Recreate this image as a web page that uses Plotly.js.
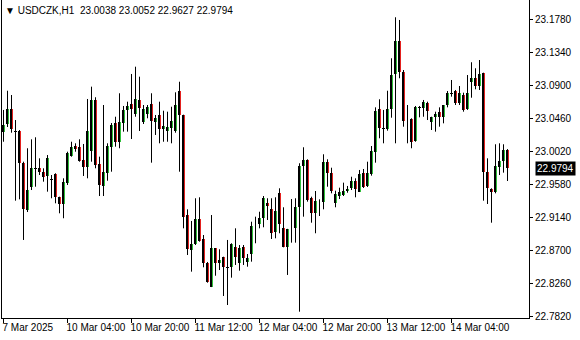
<!DOCTYPE html>
<html><head><meta charset="utf-8">
<script src="https://cdn.plot.ly/plotly-3.0.1.min.js"></script>
<style>html,body{margin:0;padding:0;background:#fff}#c{width:580px;height:340px}</style>
</head><body><div id="c"></div><script>
const symbolText = "USDCZK,H1";
const headerValues = ["23.0038", "23.0052", "22.9627", "22.9794"];
const lastPrice = 22.9794;

const opens = [23.0284,23.0382,23.0582,23.0293,23.0293,22.9871,22.9241,22.9547,22.9796,22.9796,
22.9743,22.9694,22.9650,22.9716,22.9410,22.9317,22.9597,22.9960,23.0093,23.0076,
22.9907,22.9818,23.0031,23.0706,22.9854,22.9565,22.9738,23.0076,23.0395,23.0150,
23.0403,23.0573,23.0652,23.0515,23.0706,23.0417,23.0519,23.0652,23.0417,23.0506,
23.0315,23.0297,23.0337,23.0297,23.0825,23.0506,22.9174,22.8709,22.8784,22.9121,
22.8851,22.8531,22.8220,22.8731,22.8539,22.8611,22.8478,22.8486,22.8752,22.8531,
22.8752,22.8553,22.8651,22.9055,22.9051,22.9139,22.9330,22.9250,22.8944,22.9463,
22.8997,22.8744,22.8997,22.8997,22.9277,22.9827,22.9907,22.9405,22.9205,22.9352,
22.9344,22.9884,22.9730,22.9330,22.9431,22.9441,22.9494,22.9530,22.9631,22.9485,
22.9730,22.9561,22.9720,23.0017,23.0582,23.0329,23.0315,23.0582,23.1048,23.1491,
23.1082,23.0449,23.0453,23.0164,23.0603,23.0595,23.0662,23.0417,23.0475,23.0542,
23.0483,23.0639,23.0795,23.0825,23.0670,23.0772,23.0582,23.0949,23.0995,23.0892,
23.1061,22.9743,22.9521,22.9485,22.9818,22.9893,23.0038];

const highs = [23.0573,23.0829,23.0772,23.0439,23.0306,22.9884,23.0063,23.0182,23.0209,22.9929,
22.9796,22.9973,22.9707,22.9730,22.9418,22.9663,23.0017,23.0150,23.0129,23.0182,
23.0120,23.0719,23.0883,23.0742,22.9951,23.0639,23.0129,23.0399,23.0483,23.0795,
23.0626,23.0683,23.1052,23.1149,23.1016,23.0639,23.0639,23.0795,23.0506,23.0683,
23.0563,23.0550,23.0616,23.0808,23.0949,23.0510,22.9250,22.9095,22.9397,22.9410,
22.8908,22.8549,22.9174,22.8735,22.8718,22.8619,22.8842,22.8798,22.8997,22.8775,
22.8775,22.8655,22.9085,22.9152,22.9218,22.9427,22.9397,22.9397,22.9410,22.9530,
22.9277,22.8990,22.9387,22.9397,22.9863,23.0076,22.9916,22.9418,22.9494,22.9383,
22.9983,22.9916,22.9804,22.9498,22.9538,22.9605,22.9561,22.9684,22.9663,22.9774,
22.9787,22.9884,23.0093,23.0608,23.0715,23.0573,23.0829,23.1261,23.1807,23.1771,
23.1105,23.0639,23.0462,23.0626,23.0626,23.0706,23.0683,23.0483,23.0550,23.0608,
23.0639,23.0825,23.0972,23.0839,23.0892,23.0803,23.1038,23.1208,23.1128,23.1238,
23.1069,22.9929,22.9530,23.0116,23.0129,23.0116,23.0052];

const lows = [23.0150,23.0346,23.0270,22.9365,22.9383,22.8842,22.9214,22.9507,22.9551,22.9707,
22.9618,22.9485,22.9397,22.9330,22.9197,22.9131,22.9574,22.9951,23.0017,22.9884,
22.9694,22.9663,22.9884,22.9796,22.9427,22.9427,22.9631,22.9751,23.0084,23.0063,
23.0284,23.0284,23.0186,23.0483,23.0293,23.0386,23.0462,22.9871,23.0240,23.0129,
23.0150,23.0150,23.0129,23.0270,22.9751,22.8997,22.8642,22.8420,22.8775,22.8819,
22.8478,22.8273,22.8215,22.8366,22.8442,22.8096,22.7976,22.8340,22.8509,22.8433,
22.8509,22.8486,22.8553,22.8798,22.8997,22.9011,22.9108,22.8855,22.8864,22.8931,
22.8744,22.8376,22.8806,22.8806,22.7887,22.9152,22.9352,22.9072,22.8931,22.9161,
22.9250,22.9551,22.9463,22.9277,22.9387,22.9427,22.9471,22.9507,22.9410,22.9481,
22.9534,22.9547,22.9698,22.9871,23.0196,23.0129,23.0297,23.0470,23.0129,23.0995,
23.0350,23.0129,23.0063,23.0150,23.0475,23.0483,23.0439,23.0306,23.0284,23.0350,
23.0395,23.0608,23.0750,23.0639,23.0639,23.0550,23.0573,23.0736,23.0848,23.0839,
22.9365,22.9321,22.9072,22.9463,22.9707,22.9738,22.9627];

const closes = [23.0373,23.0582,23.0315,23.0286,22.9871,22.9250,22.9507,22.9796,22.9791,22.9743,
22.9684,22.9929,22.9647,22.9410,22.9317,22.9610,22.9996,23.0084,23.0057,22.9898,
22.9818,23.0297,23.0706,22.9840,22.9574,22.9743,23.0093,23.0373,23.0150,23.0409,
23.0573,23.0626,23.0582,23.0715,23.0603,23.0586,23.0608,23.0430,23.0462,23.0315,
23.0359,23.0342,23.0426,23.0639,23.0506,22.9152,22.8718,22.8784,22.9121,22.8832,
22.8539,22.8278,22.8731,22.8531,22.8575,22.8478,22.8475,22.8788,22.8619,22.8731,
22.8606,22.8606,22.9028,22.9048,22.9131,22.9397,22.9298,22.8931,22.9228,22.9055,
22.8752,22.8984,22.8995,22.9277,22.9827,22.9907,22.9374,22.9205,22.9361,22.9350,
22.9884,22.9730,22.9498,22.9450,22.9477,22.9498,22.9517,22.9627,22.9517,22.9720,
22.9551,22.9730,23.0027,23.0559,23.0337,23.0326,23.0582,23.1038,23.1491,23.1074,
23.0430,23.0446,23.0142,23.0608,23.0606,23.0675,23.0563,23.0475,23.0519,23.0483,
23.0639,23.0803,23.0792,23.0670,23.0795,23.0573,23.0795,23.0995,23.0896,23.1052,
22.9751,22.9530,22.9485,22.9827,22.9893,23.0040,22.9794];

const timeLabels = ["7 Mar 2025","10 Mar 04:00","10 Mar 20:00","11 Mar 12:00","12 Mar 04:00","12 Mar 20:00","13 Mar 12:00","14 Mar 04:00"];
const timeLabelBars = [0,16,32,48,64,80,96,112];
const priceTicks = [22.782,22.826,22.870,22.914,22.958,23.002,23.046,23.090,23.134,23.178];

const bullColor = "#2fbf3a";
const bearColor = "#e3201e";
const dojiLimit = 0.0008;

const bars = opens.map((_, i) => i);
const font = {family: "Liberation Sans, Arial, sans-serif", size: 10, color: "#000"};
const nb = "\u00a0";

// wicks: one vertical segment per bar, from low to high
const wickX = [], wickY = [];
bars.forEach(i => { wickX.push(i, i, null); wickY.push(lows[i], highs[i], null); });
const bodyLen = closes.map((c, i) => c - opens[i]);

const wicks = {
  type: "scatter", mode: "lines", x: wickX, y: wickY,
  line: {color: "#000", width: 1}, hoverinfo: "none", connectgaps: false
};

// dark outline of each body
const bodyEdges = {
  type: "bar", x: bars, base: opens, y: bodyLen,
  width: 0.75, offset: -0.375,
  marker: {color: "#000", line: {width: 0}},
  hoverinfo: "none"
};

// coloured fill of each body
const bodyFill = {
  type: "bar", x: bars, base: opens, y: bodyLen,
  width: 0.5, offset: -0.125,
  marker: {color: bodyLen.map(d => Math.abs(d) < dojiLimit ? "#000" : (d >= 0 ? bullColor : bearColor)),
           line: {width: 0}},
  hoverinfo: "none"
};

const layout = {
  width: 580, height: 340,
  margin: {l: 2, r: 51, t: 0, b: 22, pad: 0},
  paper_bgcolor: "#fff", plot_bgcolor: "#fff",
  showlegend: false,
  bargap: 0, bargroupgap: 0, barmode: "overlay",
  xaxis: {
    type: "linear",
    range: [-0.375, 131.375], tickmode: "array", tickvals: timeLabelBars, ticktext: timeLabels,
    tickangle: 0, ticklabelshift: -2,
    ticks: "outside", ticklen: 4, tickcolor: "#000", tickwidth: 1,
    ticklabelposition: "outside right",
    showgrid: false, zeroline: false, showline: true, linecolor: "#000", linewidth: 1, mirror: true,
    tickfont: font, fixedrange: true
  },
  yaxis: {
    side: "right", range: [22.7803, 23.2037], tickmode: "array", tickvals: priceTicks,
    ticktext: priceTicks.map(v => v.toFixed(4)),
    ticks: "outside", ticklen: 3, tickcolor: "#000", tickwidth: 1,
    showgrid: false, zeroline: false, showline: true, linecolor: "#000", linewidth: 1, mirror: true,
    tickfont: font, fixedrange: true
  },
  annotations: [
    {xref: "paper", yref: "paper", x: 0, y: 1, xanchor: "left", yanchor: "top", xshift: 1, yshift: -3,
     showarrow: false, font: font,
     text: "\u25bc" + nb + symbolText + nb + nb + headerValues.join(nb)},
    {xref: "paper", yref: "y", x: 1, y: lastPrice, xanchor: "left", yanchor: "middle", xshift: 6,
     showarrow: false, bgcolor: "#000", borderpad: 1,
     font: {family: font.family, size: 10, color: "#fff"}, text: lastPrice.toFixed(4)}
  ]
};

Plotly.newPlot("c", [wicks, bodyEdges, bodyFill], layout, {staticPlot: true, displayModeBar: false});
</script></body></html>
